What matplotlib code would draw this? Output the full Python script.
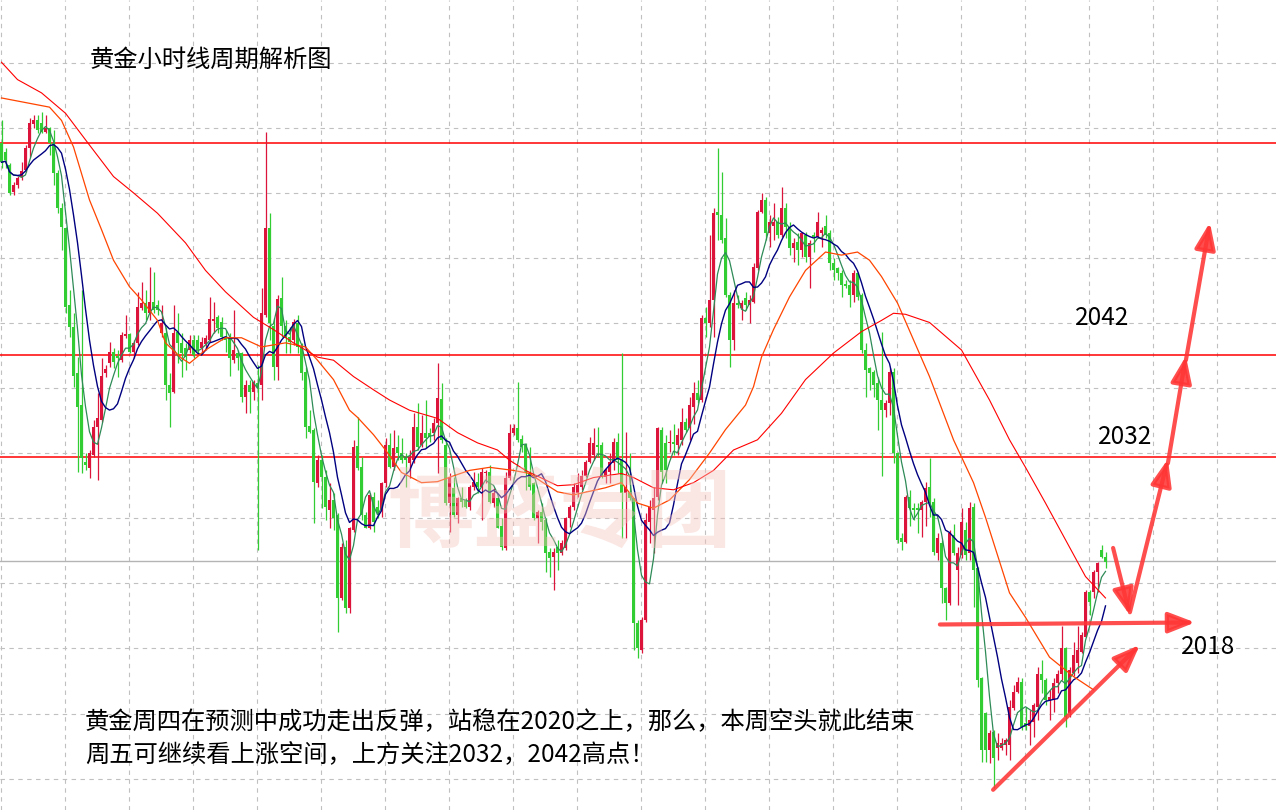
import numpy as np
import pandas as pd
import matplotlib
matplotlib.use("Agg")
import matplotlib.pyplot as plt

plt.rcParams['font.family'] = ['Noto Sans CJK SC', 'DejaVu Sans']

# 黄金 1小时K线 (开, 高, 低, 收)
opens = [2062.8, 2061.9, 2060.6, 2058.0, 2058.7, 2059.5, 2060.1, 2062.3, 2064.6, 2065.0,
         2064.7, 2063.9, 2064.3, 2062.8, 2059.8, 2056.4, 2054.5, 2046.9, 2044.8, 2040.2,
         2037.1, 2031.5, 2030.9, 2032.2, 2035.0, 2035.6, 2040.2, 2041.2, 2042.3, 2041.9,
         2041.5, 2043.9, 2044.1, 2042.3, 2043.2, 2046.6, 2047.1, 2046.1, 2047.2, 2046.9,
         2044.2, 2044.2, 2039.1, 2038.4, 2044.3, 2043.2, 2042.7, 2042.5, 2043.5, 2043.5,
         2042.7, 2043.1, 2043.5, 2045.3, 2045.7, 2045.2, 2043.8, 2043.7, 2041.5, 2042.2,
         2042.2, 2037.9, 2039.1, 2038.4, 2039.3, 2039.1, 2045.9, 2054.5, 2044.9, 2040.8,
         2047.6, 2044.9, 2043.8, 2043.5, 2045.1, 2042.8, 2040.3, 2035.1, 2034.7, 2029.5,
         2031.7, 2030.1, 2026.8, 2027.8, 2026.3, 2018.2, 2023.2, 2017.2, 2024.9, 2033.1,
         2031.0, 2026.3, 2025.1, 2028.1, 2027.1, 2026.8, 2029.5, 2033.2, 2031.0, 2033.0,
         2032.4, 2032.0, 2031.4, 2031.7, 2035.0, 2033.2, 2034.4, 2034.4, 2034.4, 2035.3,
         2037.7, 2033.2, 2027.5, 2029.0, 2026.3, 2028.0, 2027.8, 2027.1, 2029.1, 2029.6,
         2029.1, 2030.4, 2030.5, 2027.5, 2028.0, 2025.3, 2023.1, 2030.0, 2034.4, 2034.9,
         2033.8, 2033.2, 2030.4, 2029.5, 2026.0, 2026.6, 2025.8, 2022.7, 2022.2, 2023.2,
         2022.6, 2023.1, 2026.0, 2027.1, 2028.5, 2029.1, 2030.2, 2031.5, 2032.2, 2033.2,
         2033.2, 2030.1, 2030.5, 2031.4, 2033.5, 2031.7, 2028.5, 2028.6, 2028.0, 2015.7,
         2013.1, 2016.0, 2025.6, 2026.8, 2028.1, 2034.7, 2033.4, 2033.4, 2033.5, 2033.2,
         2033.7, 2035.4, 2034.9, 2036.9, 2038.3, 2037.6, 2045.6, 2045.1, 2047.4, 2056.0,
         2055.7, 2053.5, 2047.9, 2043.5, 2047.1, 2046.6, 2047.6, 2046.9, 2047.2, 2050.5,
         2056.0, 2057.2, 2054.0, 2054.7, 2055.0, 2053.8, 2056.4, 2054.6, 2052.5, 2053.1,
         2052.3, 2053.8, 2051.6, 2053.8, 2053.6, 2054.0, 2054.7, 2054.0, 2051.0, 2050.5,
         2050.0, 2049.0, 2048.9, 2047.9, 2050.0, 2047.9, 2042.5, 2040.7, 2040.3, 2039.3,
         2037.6, 2036.6, 2037.3, 2040.3, 2032.4, 2024.1, 2023.7, 2028.1, 2027.0, 2027.0,
         2026.8, 2027.6, 2029.1, 2027.6, 2022.6, 2023.6, 2019.2, 2017.7, 2024.4, 2020.9,
         2022.4, 2024.9, 2022.6, 2027.1, 2021.1, 2010.4, 2006.9, 2003.3, 2005.1, 2003.5,
         2003.5, 2003.8, 2003.8, 2007.4, 2009.0, 2010.0, 2005.9, 2005.7, 2006.0, 2007.5,
         2010.7, 2010.2, 2008.2, 2008.2, 2009.9, 2010.7, 2013.3, 2006.9, 2010.8, 2011.8,
         2012.9, 2014.4, 2018.8, 2018.8, 2020.7, 2022.9, 2022.2]
highs = [2065.0, 2062.3, 2060.8, 2059.0, 2059.6, 2060.9, 2062.6, 2065.2, 2065.5, 2065.5,
         2065.8, 2065.5, 2064.4, 2064.1, 2060.1, 2056.9, 2054.6, 2048.4, 2046.1, 2041.8,
         2048.4, 2032.4, 2032.7, 2035.6, 2038.3, 2041.7, 2041.0, 2043.3, 2042.7, 2042.5,
         2044.3, 2045.9, 2044.2, 2043.5, 2048.2, 2049.2, 2048.4, 2050.6, 2050.1, 2047.4,
         2046.9, 2044.8, 2040.2, 2046.9, 2046.1, 2044.2, 2043.2, 2044.0, 2044.0, 2044.0,
         2043.8, 2044.0, 2047.7, 2047.2, 2045.9, 2045.7, 2044.5, 2044.2, 2046.4, 2042.5,
         2042.3, 2039.6, 2039.6, 2039.6, 2041.0, 2048.6, 2063.9, 2055.9, 2045.6, 2047.9,
         2049.7, 2045.4, 2044.8, 2045.5, 2045.9, 2043.2, 2040.8, 2036.6, 2034.9, 2032.2,
         2032.2, 2030.7, 2029.5, 2028.5, 2026.5, 2023.6, 2023.9, 2025.2, 2033.7, 2035.9,
         2032.0, 2026.6, 2028.5, 2028.6, 2027.8, 2029.6, 2033.9, 2034.4, 2034.7, 2034.2,
         2033.9, 2032.4, 2032.7, 2036.3, 2037.3, 2036.1, 2037.6, 2034.9, 2035.8, 2041.2,
         2039.3, 2033.9, 2030.4, 2030.1, 2028.1, 2029.1, 2028.0, 2029.3, 2030.5, 2030.4,
         2030.9, 2030.7, 2031.2, 2029.0, 2028.1, 2026.0, 2030.5, 2035.2, 2035.2, 2039.4,
         2034.2, 2033.4, 2033.0, 2029.6, 2026.8, 2027.5, 2026.0, 2023.1, 2023.1, 2023.9,
         2023.9, 2026.1, 2027.3, 2029.5, 2030.4, 2030.7, 2031.7, 2034.0, 2034.9, 2035.0,
         2033.5, 2030.9, 2032.4, 2033.9, 2034.4, 2042.2, 2034.5, 2032.4, 2028.0, 2016.0,
         2016.3, 2026.5, 2027.8, 2029.1, 2035.0, 2035.0, 2034.2, 2034.7, 2035.2, 2034.9,
         2036.8, 2035.8, 2037.9, 2039.4, 2039.6, 2045.9, 2046.7, 2053.8, 2056.4, 2062.3,
         2059.9, 2055.4, 2048.2, 2048.4, 2047.9, 2047.4, 2048.2, 2047.9, 2051.0, 2056.2,
         2057.9, 2057.5, 2055.7, 2056.9, 2055.5, 2058.5, 2056.9, 2055.0, 2053.5, 2054.0,
         2054.1, 2054.1, 2053.3, 2054.1, 2056.0, 2054.6, 2055.7, 2054.3, 2051.5, 2050.6,
         2050.3, 2049.4, 2049.4, 2050.3, 2050.1, 2048.1, 2043.2, 2040.8, 2040.5, 2039.9,
         2044.3, 2037.6, 2040.7, 2040.7, 2032.5, 2024.6, 2028.3, 2028.8, 2027.5, 2027.5,
         2027.8, 2029.6, 2031.9, 2028.0, 2024.6, 2023.9, 2019.3, 2024.9, 2025.4, 2023.2,
         2027.0, 2025.6, 2027.6, 2027.5, 2021.2, 2010.5, 2007.0, 2005.3, 2005.3, 2005.0,
         2004.5, 2004.5, 2008.2, 2009.7, 2010.5, 2010.4, 2007.5, 2007.2, 2007.9, 2011.4,
         2012.1, 2010.4, 2009.2, 2010.4, 2011.1, 2015.5, 2013.4, 2011.4, 2013.9, 2015.5,
         2014.9, 2019.0, 2019.0, 2020.9, 2021.7, 2023.4, 2022.7]
lows = [2060.3, 2060.3, 2057.7, 2057.7, 2058.4, 2059.2, 2059.9, 2061.4, 2064.3, 2063.8,
        2063.8, 2063.8, 2061.6, 2058.7, 2055.9, 2052.3, 2046.1, 2043.8, 2038.9, 2030.5,
        2030.4, 2030.7, 2030.0, 2032.0, 2029.8, 2035.4, 2039.9, 2040.8, 2040.7, 2039.9,
        2041.3, 2043.7, 2042.2, 2041.7, 2043.0, 2046.4, 2045.4, 2045.4, 2046.1, 2045.9,
        2043.8, 2037.6, 2035.0, 2038.3, 2041.2, 2039.9, 2040.5, 2042.2, 2041.7, 2042.2,
        2042.2, 2042.5, 2043.3, 2044.2, 2044.2, 2043.5, 2042.3, 2040.0, 2041.2, 2040.5,
        2037.4, 2036.3, 2036.3, 2037.6, 2022.9, 2037.6, 2045.7, 2043.5, 2039.6, 2039.6,
        2043.8, 2042.2, 2042.2, 2043.0, 2042.2, 2039.6, 2033.9, 2034.4, 2025.5, 2029.1,
        2027.0, 2025.8, 2025.1, 2024.9, 2014.9, 2018.0, 2016.7, 2016.7, 2024.7, 2030.7,
        2025.8, 2025.1, 2025.0, 2024.7, 2026.0, 2026.1, 2029.1, 2030.9, 2030.7, 2031.7,
        2031.4, 2029.1, 2030.0, 2031.4, 2032.7, 2033.0, 2032.9, 2033.5, 2033.7, 2030.4,
        2033.4, 2027.3, 2024.7, 2026.1, 2025.5, 2027.1, 2027.0, 2026.8, 2028.8, 2028.5,
        2025.8, 2029.5, 2027.5, 2027.1, 2025.1, 2022.9, 2022.9, 2029.8, 2034.2, 2033.5,
        2032.5, 2028.8, 2028.8, 2025.8, 2023.6, 2024.9, 2020.7, 2020.3, 2019.0, 2020.9,
        2022.4, 2022.9, 2025.2, 2026.8, 2028.1, 2028.8, 2030.1, 2031.4, 2031.7, 2032.0,
        2030.0, 2029.5, 2029.5, 2030.7, 2030.4, 2024.1, 2024.1, 2027.8, 2013.1, 2012.3,
        2012.8, 2015.8, 2023.6, 2022.6, 2027.8, 2029.5, 2029.5, 2032.5, 2032.2, 2032.2,
        2033.2, 2034.5, 2033.7, 2035.2, 2037.3, 2037.4, 2043.8, 2044.8, 2043.8, 2053.3,
        2053.0, 2047.7, 2040.8, 2042.5, 2046.6, 2045.4, 2046.4, 2045.1, 2047.1, 2050.3,
        2055.9, 2053.3, 2052.6, 2053.3, 2053.5, 2053.6, 2053.5, 2051.8, 2051.1, 2050.8,
        2051.6, 2051.1, 2048.6, 2052.1, 2053.5, 2052.6, 2053.5, 2050.3, 2049.4, 2049.4,
        2047.7, 2048.6, 2046.7, 2047.2, 2047.4, 2042.2, 2037.9, 2038.6, 2037.9, 2034.7,
        2030.2, 2035.9, 2036.1, 2031.4, 2023.6, 2022.9, 2023.6, 2025.3, 2025.8, 2024.6,
        2024.2, 2025.3, 2026.1, 2022.4, 2021.9, 2017.7, 2016.0, 2017.5, 2022.4, 2017.5,
        2022.1, 2021.9, 2021.9, 2017.3, 2009.5, 2002.1, 2002.1, 2002.0, 1999.6, 2002.3,
        2003.3, 2002.8, 2002.3, 2007.2, 2008.9, 2005.3, 2005.3, 2003.8, 2004.6, 2006.2,
        2008.9, 2007.7, 2006.2, 2007.0, 2008.9, 2010.2, 2005.6, 2006.5, 2010.6, 2010.8,
        2012.8, 2014.4, 2016.5, 2018.2, 2018.8, 2022.1, 2021.1]
closes = [2060.9, 2061.1, 2057.9, 2058.7, 2059.4, 2060.0, 2062.3, 2064.7, 2065.0, 2064.1,
          2063.9, 2064.3, 2062.8, 2059.8, 2056.4, 2054.6, 2046.7, 2044.8, 2040.0, 2036.9,
          2031.9, 2031.2, 2032.4, 2035.0, 2035.8, 2040.0, 2040.6, 2042.3, 2041.3, 2041.7,
          2044.0, 2044.1, 2042.3, 2043.2, 2046.7, 2047.1, 2046.1, 2047.2, 2046.4, 2046.4,
          2045.1, 2039.1, 2038.3, 2044.2, 2043.2, 2042.2, 2041.8, 2043.5, 2042.0, 2042.5,
          2043.3, 2043.7, 2045.5, 2045.5, 2044.7, 2043.8, 2043.5, 2041.7, 2042.5, 2041.7,
          2037.9, 2039.1, 2038.4, 2039.4, 2038.9, 2046.1, 2054.5, 2045.1, 2040.8, 2047.5,
          2044.9, 2043.7, 2043.3, 2045.2, 2042.8, 2040.2, 2035.0, 2034.5, 2029.6, 2031.7,
          2030.1, 2027.1, 2027.8, 2026.0, 2018.2, 2023.2, 2017.2, 2025.1, 2033.0, 2030.9,
          2026.3, 2025.1, 2028.3, 2025.6, 2026.5, 2029.5, 2033.2, 2031.0, 2032.9, 2032.4,
          2031.7, 2031.7, 2032.0, 2035.0, 2033.0, 2034.4, 2033.9, 2034.0, 2035.3, 2037.8,
          2033.7, 2027.5, 2030.0, 2026.3, 2028.0, 2027.6, 2027.1, 2029.1, 2029.6, 2029.1,
          2030.5, 2030.5, 2027.6, 2028.5, 2025.1, 2023.2, 2030.0, 2034.4, 2034.9, 2033.7,
          2033.0, 2030.4, 2029.1, 2026.0, 2026.6, 2025.6, 2022.6, 2022.1, 2022.7, 2022.6,
          2023.6, 2026.0, 2027.1, 2029.1, 2029.3, 2030.2, 2031.5, 2033.4, 2033.4, 2033.0,
          2030.1, 2030.7, 2031.5, 2033.5, 2031.7, 2028.5, 2029.1, 2028.0, 2015.7, 2013.3,
          2016.0, 2025.8, 2027.1, 2028.0, 2034.9, 2030.5, 2030.7, 2033.5, 2033.3, 2034.2,
          2035.4, 2034.7, 2037.1, 2038.3, 2037.6, 2045.6, 2045.1, 2047.4, 2055.9, 2055.7,
          2053.3, 2047.9, 2043.5, 2047.1, 2046.9, 2047.1, 2046.9, 2047.4, 2050.6, 2056.0,
          2057.2, 2054.0, 2055.0, 2055.0, 2053.8, 2056.4, 2054.6, 2052.5, 2053.0, 2052.3,
          2054.0, 2051.6, 2053.0, 2053.6, 2055.0, 2054.3, 2053.8, 2051.0, 2050.3, 2050.0,
          2048.9, 2048.8, 2047.9, 2050.0, 2047.7, 2042.5, 2040.5, 2040.2, 2039.1, 2037.6,
          2036.6, 2037.3, 2040.3, 2032.4, 2023.9, 2023.7, 2028.1, 2027.0, 2026.8, 2026.8,
          2027.6, 2029.0, 2027.6, 2022.7, 2024.1, 2019.2, 2017.7, 2024.6, 2022.6, 2022.6,
          2025.6, 2022.4, 2027.0, 2020.9, 2010.2, 2003.3, 2003.3, 2005.0, 2002.5, 2004.0,
          2004.0, 2004.3, 2007.5, 2009.0, 2010.0, 2005.6, 2005.6, 2006.2, 2007.7, 2010.7,
          2010.2, 2008.2, 2008.5, 2009.9, 2010.7, 2013.3, 2006.5, 2011.1, 2012.6, 2013.1,
          2014.6, 2018.8, 2017.8, 2020.7, 2021.6, 2022.2, 2021.7]

# 慢速均线（从图上读取的点：K线序号, 价格）
ma_orange_idx = [0, 8, 12, 15, 18, 20, 22, 25, 28, 32, 35, 39, 41, 45, 47, 51, 56, 60, 65,
                 71, 76, 79, 83, 87, 89, 93, 96, 100, 105, 109, 114, 117, 122, 128, 132,
                 135, 139, 143, 151, 155, 159, 163, 167, 172, 177, 181, 186, 188, 190, 193,
                 197, 201, 206, 210, 214, 217, 220, 224, 228, 232, 238, 243, 246, 252,
                 256, 262, 268, 273]
ma_orange_val = [2067.2, 2066.6, 2066.3, 2065.0, 2062.4, 2059.8, 2057.2, 2054.3, 2051.3,
                 2048.7, 2047.4, 2045.4, 2043.2, 2041.7, 2041.2, 2042.5, 2043.7, 2043.7,
                 2042.8, 2043.2, 2042.8, 2041.5, 2039.6, 2036.6, 2035.9, 2034.2, 2032.7,
                 2030.5, 2029.5, 2029.6, 2030.3, 2030.7, 2031.0, 2030.7, 2030.4, 2029.6,
                 2028.6, 2028.3, 2029.0, 2029.5, 2027.5, 2027.0, 2027.8, 2029.8, 2032.4,
                 2034.7, 2037.1, 2038.9, 2041.8, 2044.5, 2047.7, 2050.3, 2052.1, 2051.8,
                 2052.1, 2051.3, 2049.7, 2047.1, 2043.5, 2039.9, 2033.7, 2029.5, 2026.1,
                 2018.7, 2016.3, 2012.4, 2010.5, 2009.2]
ma_red_idx = [0, 4, 10, 16, 21, 28, 33, 39, 46, 51, 56, 63, 68, 73, 79, 83, 88, 93, 97, 102,
              109, 114, 119, 124, 127, 131, 139, 143, 148, 155, 158, 163, 168, 173, 178,
              183, 189, 195, 201, 208, 215, 220, 223, 226, 232, 240, 247, 252, 256, 261,
              266, 271, 276]
ma_red_val = [2070.7, 2069.0, 2067.7, 2065.7, 2063.1, 2059.5, 2057.9, 2055.9, 2053.0,
              2050.3, 2048.2, 2045.7, 2044.5, 2043.2, 2041.8, 2041.5, 2039.9, 2038.6,
              2037.6, 2036.6, 2035.8, 2034.4, 2033.4, 2032.7, 2031.7, 2030.7, 2029.2,
              2029.3, 2030.0, 2030.4, 2030.0, 2029.0, 2028.8, 2029.5, 2030.7, 2032.7,
              2033.7, 2036.3, 2039.6, 2042.2, 2044.3, 2045.4, 2046.1, 2046.0, 2045.2,
              2042.5, 2037.6, 2033.7, 2031.0, 2027.5, 2023.9, 2020.3, 2018.2]

red_levels = [2062.8, 2042.0, 2032.0]
gray_level = 2021.8
level_labels = ['2042', '2032', '2018']

title = '黄金小时线周期解析图'
note1 = '黄金周四在预测中成功走出反弹，站稳在2020之上，那么，本周空头就此结束'
note2 = '周五可继续看上涨空间，上方关注2032，2042高点！'

W, H = 1276, 810
fig = plt.figure(figsize=(W / 100, H / 100), dpi=100)
ax = fig.add_axes([0, 0, 1, 1])
ax.set_xlim(-0.375, 318.625)
ax.set_ylim(1997.42, 2076.8)
ax.axis('off')

# 网格
for gx in np.arange(-0.125, 320, 16):
    ax.axvline(gx, color='#c0c0c0', lw=0.8, ls=(0, (4, 4)), zorder=0)
for gy in np.arange(2070.6, 1997, -65 / 10.2):
    ax.axhline(gy, color='#c0c0c0', lw=0.8, ls=(0, (4, 4)), zorder=0)

# 水印
fig.text(560 / W, 1 - 515 / H, '博盛专团', fontsize=62, fontweight='bold',
         color='#f5c4bc', alpha=0.42, ha='center', va='center', zorder=0.5)

for lv in red_levels:
    ax.axhline(lv, color='#ff0000', lw=1.1, zorder=1)
ax.axhline(gray_level, color='#b4b4b4', lw=1.0, zorder=1)

# K线
o = np.array(opens); h = np.array(highs); l = np.array(lows); c = np.array(closes)
idx = np.arange(len(c))
up = c >= o
cols = np.where(up, '#dc143c', '#32cd32')
ax.vlines(idx, l, h, colors=cols, lw=0.9, zorder=2)
body_lo = np.minimum(o, c)
body_h = np.maximum(np.abs(c - o), 0.12)
ax.bar(idx, body_h, bottom=body_lo, width=0.78, color=cols, lw=0, zorder=3)

# 均线
s = pd.Series(c)
ax.plot(idx, s.rolling(5, min_periods=1).mean(), color='#2e8b57', lw=0.9, zorder=4)
ax.plot(idx, s.rolling(10, min_periods=1).mean(), color='#000080', lw=1.0, zorder=4)
ax.plot(ma_orange_idx, ma_orange_val, color='#ff4500', lw=0.9, zorder=4)
ax.plot(ma_red_idx, ma_red_val, color='#ff0000', lw=0.8, zorder=4)

# 箭头（K线序号, 价格）
arrows = [((234.6, 2015.6), (298.4, 2015.8)),
          ((247.9, 1999.4), (284.6, 2013.6)),
          ((277.9, 2023.1), (282.1, 2016.5)),
          ((282.1, 2016.8), (291.6, 2031.8)),
          ((291.6, 2031.4), (296.1, 2041.9)),
          ((296.1, 2041.5), (302.1, 2055.0))]
for start, end in arrows:
    ax.annotate('', xy=end, xytext=start, zorder=5,
                arrowprops=dict(arrowstyle='-|>,head_length=0.9,head_width=0.35',
                                color='#ff3535', lw=3.0, alpha=0.88,
                                shrinkA=0, shrinkB=0, mutation_scale=18))

fs = 17.5
fig.text(90 / W, 1 - 60 / H, title, fontsize=fs, va='center', ha='left')
fig.text(1075 / W, 1 - 318 / H, level_labels[0], fontsize=fs, va='center', ha='left')
fig.text(1098 / W, 1 - 437 / H, level_labels[1], fontsize=fs, va='center', ha='left')
fig.text(1181 / W, 1 - 647 / H, level_labels[2], fontsize=fs, va='center', ha='left')
fig.text(85 / W, 1 - 722 / H, note1, fontsize=fs, va='center', ha='left')
fig.text(85 / W, 1 - 755 / H, note2, fontsize=fs, va='center', ha='left')

fig.savefig('out.png', dpi=100)
